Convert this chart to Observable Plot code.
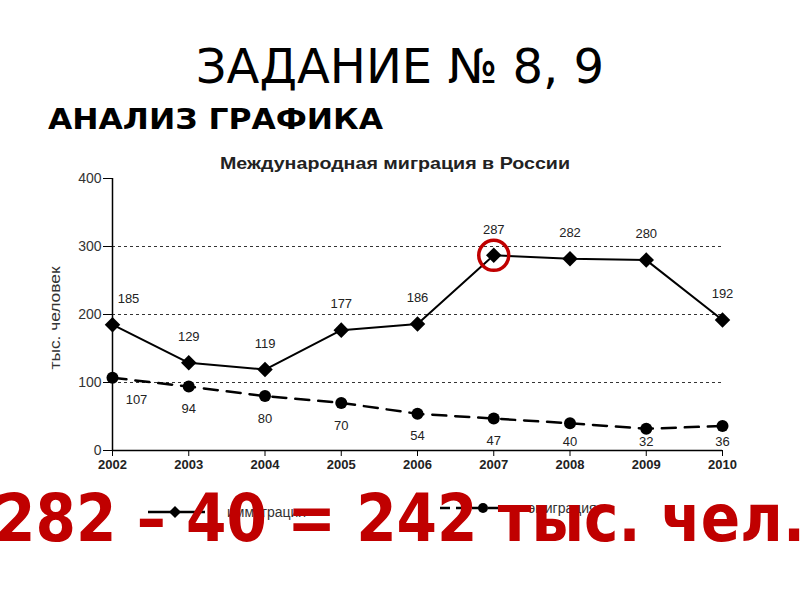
<!DOCTYPE html>
<html>
<head>
<meta charset="utf-8">
<script src="https://cdn.jsdelivr.net/npm/d3@7"></script>
<script src="https://cdn.jsdelivr.net/npm/@observablehq/plot@0.6"></script>
<style>
  html, body { margin: 0; padding: 0; background: #fff; }
  #wrap { position: relative; width: 800px; height: 600px; overflow: hidden; background: #fff; }
  #head { position: absolute; left: 0; top: 0; z-index: 0; }
  #chart { position: absolute; left: 0; top: 131px; z-index: 1; }
  #over { position: absolute; left: 0; top: 0; z-index: 2; pointer-events: none; }
</style>
</head>
<body>
<div id="wrap">
  <svg id="head" width="800" height="140"></svg>
  <div id="chart"></div>
  <svg id="over" width="800" height="600"></svg>
</div>
<script>
// ---- data ----
const years = [2002, 2003, 2004, 2005, 2006, 2007, 2008, 2009, 2010];
const immigration = [185, 129, 119, 177, 186, 287, 282, 280, 192];
const emigration = [107, 94, 80, 70, 54, 47, 40, 32, 36];
const yTicks = [0, 100, 200, 300, 400];
const gridValues = [100, 200, 300];
const seriesNames = ["иммиграция", "эмиграция"];
const highlightYear = 2007;
const mainTitle = "ЗАДАНИЕ № 8, 9";
const subTitle = "АНАЛИЗ ГРАФИКА";
const chartTitle = "Международная миграция в России";
const yLabel = "тыс. человек";
const answerText = "282 – 40 = 242 тыс. чел.";

const imm = years.map((x, i) => ({x, y: immigration[i]}));
const emi = years.map((x, i) => ({x, y: emigration[i]}));
const hl = imm.filter(d => d.x === highlightYear);
const firstYear = years[0];

// ---- headings (behind the chart picture) ----
const NS = "http://www.w3.org/2000/svg";
function txt(svg, attrs, s) {
  const t = document.createElementNS(NS, "text");
  for (const k in attrs) t.setAttribute(k, attrs[k]);
  t.textContent = s;
  svg.appendChild(t);
  return t;
}
const head = document.getElementById("head");
txt(head, {x: 400, y: 83, "text-anchor": "middle", "font-family": "DejaVu Sans", "font-size": 48, fill: "#000"}, mainTitle);
txt(head, {x: 48, y: 129, "font-family": "DejaVu Sans", "font-weight": "bold", "font-size": 28, fill: "#000", textLength: 335, lengthAdjust: "spacingAndGlyphs"}, subTitle);

// ---- chart ----
const numFont = "'Liberation Sans', Arial, sans-serif";
const chart = Plot.plot({
  width: 800,
  height: 349,
  marginTop: 47,
  marginBottom: 30,
  marginLeft: 112,
  marginRight: 78,
  style: {background: "#fff", fontFamily: numFont, fontSize: "14px", color: "#222"},
  x: {domain: [2002, 2010], label: null},
  y: {domain: [0, 400], label: null},
  marks: [
    Plot.ruleY(gridValues, {x1: 2002, x2: 2010, stroke: "#000", strokeWidth: 0.8, strokeDasharray: "3,3"}),
    Plot.axisX(years, {tickFormat: "d", tickSize: 6, tickPadding: 3, fontWeight: "bold", fontFamily: "'Liberation Sans Narrow', 'Liberation Sans', sans-serif", fontSize: 13, label: null, stroke: "#000"}),
    Plot.axisY(yTicks, {tickSize: 9, tickPadding: 2, fontSize: 14, fill: "#333", label: null, stroke: "#000"}),
    Plot.ruleX([2002], {y1: 0, y2: 400, stroke: "#000", strokeWidth: 1.5}),
    Plot.ruleY([0], {x1: 2002, x2: 2010, stroke: "#000", strokeWidth: 1.5}),
    Plot.line(emi, {x: "x", y: "y", stroke: "#000", strokeWidth: 2.5, strokeDasharray: "14,9"}),
    Plot.line(imm, {x: "x", y: "y", stroke: "#000", strokeWidth: 2}),
    Plot.dot(emi, {x: "x", y: "y", r: 6, fill: "#000", symbol: "circle"}),
    Plot.dot(imm, {x: "x", y: "y", r: 7, fill: "#000", symbol: "diamond2"}),
    Plot.text(imm.filter(d => d.x !== firstYear), {x: "x", y: "y", text: d => String(d.y), dy: -26, fill: "#222", fontSize: 13}),
    Plot.text(imm.filter(d => d.x === firstYear), {x: "x", y: "y", text: d => String(d.y), dy: -26, dx: 16, fill: "#222", fontSize: 13}),
    Plot.text(emi.filter(d => d.x !== firstYear), {x: "x", y: d => Math.max(d.y - 33, 13), text: d => String(d.y), fill: "#222", fontSize: 13}),
    Plot.text(emi.filter(d => d.x === firstYear), {x: "x", y: d => Math.max(d.y - 33, 13), text: d => String(d.y), dx: 24, fill: "#222", fontSize: 13}),
    Plot.dot(hl, {x: "x", y: "y", r: 15, stroke: "#c00000", strokeWidth: 3.5, fill: "none"})
  ]
});
document.getElementById("chart").appendChild(chart);

// ---- overlay: chart title, y label, legend, answer ----
const over = document.getElementById("over");
txt(over, {x: 395, y: 169, "text-anchor": "middle", "font-family": numFont, "font-weight": "bold", "font-size": 17, fill: "#222", textLength: 350, lengthAdjust: "spacingAndGlyphs"}, chartTitle);
txt(over, {x: 0, y: 0, transform: "translate(60,318) rotate(-90)", "text-anchor": "middle", "font-family": numFont, "font-size": 14, fill: "#333", textLength: 103, lengthAdjust: "spacingAndGlyphs"}, yLabel);

function line(x1, y1, x2, y2, extra) {
  const l = document.createElementNS(NS, "line");
  const a = Object.assign({x1, y1, x2, y2, stroke: "#000"}, extra);
  for (const k in a) l.setAttribute(k, a[k]);
  over.appendChild(l);
}
// legend: immigration
line(148, 512, 205, 512, {"stroke-width": 2.5});
const dia = document.createElementNS(NS, "path");
dia.setAttribute("d", "M175,506 L181,512 L175,518 L169,512 Z");
over.appendChild(dia);
txt(over, {x: 227, y: 517, "font-family": numFont, "font-size": 14, fill: "#333"}, seriesNames[0]);
// legend: emigration
line(440, 508, 516, 508, {"stroke-width": 2.5, "stroke-dasharray": "10,6"});
const c = document.createElementNS(NS, "circle");
c.setAttribute("cx", 483); c.setAttribute("cy", 508); c.setAttribute("r", 5);
over.appendChild(c);
txt(over, {x: 528, y: 513, "font-family": numFont, "font-size": 14, fill: "#333"}, seriesNames[1]);

// answer
txt(over, {x: -5, y: 541, "font-family": "DejaVu Sans", "font-weight": "bold", "font-size": 66, fill: "#c00000", textLength: 810, lengthAdjust: "spacingAndGlyphs"}, answerText);
</script>
</body>
</html>
